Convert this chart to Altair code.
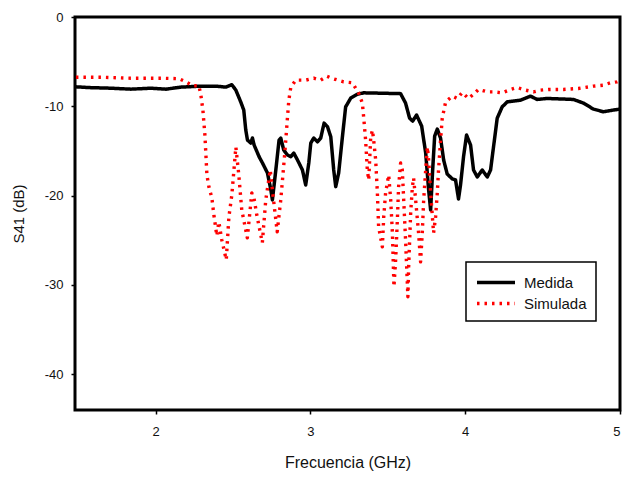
import altair as alt
import pandas as pd

# Medida (measured) S41 in dB vs frequency in GHz
freq_medida = [1.486, 1.583, 1.712, 1.841, 1.970, 2.067, 2.164, 2.293, 2.390, 2.454,
               2.493, 2.519, 2.551, 2.570, 2.583, 2.594, 2.615, 2.626, 2.637, 2.669,
               2.691, 2.723, 2.745, 2.755, 2.777, 2.798, 2.809, 2.828, 2.852, 2.874,
               2.893, 2.917, 2.949, 2.970, 2.990, 3.003, 3.022, 3.046, 3.067, 3.089,
               3.111, 3.132, 3.151, 3.164, 3.183, 3.207, 3.228, 3.261, 3.304, 3.345,
               3.454, 3.583, 3.615, 3.641, 3.661, 3.686, 3.719, 3.745, 3.764, 3.777,
               3.790, 3.803, 3.820, 3.841, 3.861, 3.884, 3.917, 3.938, 3.957, 3.970,
               3.990, 4.009, 4.035, 4.054, 4.078, 4.110, 4.143, 4.164, 4.183, 4.207,
               4.239, 4.272, 4.357, 4.422, 4.465, 4.530, 4.699, 4.764, 4.828, 4.893,
               4.957, 5.000]
s41_medida = [-7.82, -7.91, -7.97, -8.08, -7.97, -8.08, -7.85, -7.74, -7.74, -7.85,
              -7.58, -8.19, -9.53, -10.42, -12.66, -13.78, -14.11, -13.55, -14.34, -15.64,
              -16.35, -17.46, -19.36, -20.48, -17.13, -13.78, -13.55, -14.89, -15.45, -15.64,
              -15.23, -16.01, -17.13, -18.80, -16.35, -14.11, -13.55, -13.97, -13.55, -11.88,
              -12.29, -13.41, -17.13, -18.99, -17.46, -13.44, -10.06, -9.08, -8.64, -8.49,
              -8.53, -8.58, -9.64, -11.32, -11.65, -10.98, -12.21, -15.23, -19.36, -21.60,
              -17.13, -13.33, -12.55, -13.55, -16.01, -17.58, -18.13, -18.25, -20.37, -18.80,
              -15.56, -13.22, -14.34, -17.13, -17.91, -17.13, -17.91, -17.13, -14.56, -11.32,
              -10.06, -9.50, -9.31, -8.86, -9.23, -9.12, -9.23, -9.64, -10.31, -10.61,
              -10.42, -10.31]

# Simulada (simulated) S41 in dB vs frequency in GHz
freq_simulada = [1.486, 1.648, 1.841, 2.035, 2.151, 2.196, 2.241, 2.280, 2.293, 2.306,
                 2.319, 2.332, 2.345, 2.364, 2.377, 2.396, 2.409, 2.428, 2.457, 2.474,
                 2.493, 2.519, 2.538, 2.557, 2.593, 2.622, 2.635, 2.654, 2.690, 2.712,
                 2.741, 2.757, 2.786, 2.809, 2.835, 2.851, 2.861, 2.874, 2.906, 2.970,
                 3.022, 3.067, 3.106, 3.151, 3.215, 3.272, 3.312, 3.336, 3.345, 3.357,
                 3.368, 3.377, 3.390, 3.401, 3.409, 3.422, 3.433, 3.441, 3.465, 3.474,
                 3.486, 3.506, 3.519, 3.530, 3.540, 3.551, 3.562, 3.570, 3.583, 3.594,
                 3.603, 3.615, 3.630, 3.635, 3.648, 3.659, 3.667, 3.680, 3.699, 3.712,
                 3.723, 3.732, 3.745, 3.756, 3.764, 3.777, 3.796, 3.809, 3.820, 3.828,
                 3.841, 3.852, 3.874, 3.917, 3.949, 3.981, 4.022, 4.054, 4.086, 4.143,
                 4.183, 4.239, 4.293, 4.336, 4.390, 4.441, 4.486, 4.538, 4.635, 4.732,
                 4.828, 4.893, 4.938, 4.981, 5.000]
s41_simulada = [-6.74, -6.74, -6.85, -6.85, -6.91, -7.26, -7.69, -7.69, -8.75, -10.42,
                -13.22, -17.69, -19.03, -20.26, -22.16, -24.50, -22.94, -24.95, -27.18, -22.38,
                -19.92, -14.56, -17.69, -21.60, -24.73, -19.70, -20.15, -22.16, -25.28, -20.48,
                -17.13, -19.70, -24.06, -20.48, -15.23, -11.54, -9.31, -7.85, -7.07, -7.07,
                -6.85, -7.07, -6.63, -6.93, -7.26, -7.37, -8.53, -9.64, -11.32, -13.78,
                -17.13, -18.25, -13.44, -12.66, -13.78, -16.01, -19.70, -23.50, -25.73, -22.38,
                -19.70, -17.69, -20.48, -24.17, -30.20, -27.18, -22.72, -19.03, -16.35, -17.13,
                -20.48, -24.95, -31.32, -27.97, -21.93, -19.03, -18.02, -20.48, -24.17, -27.41,
                -24.17, -20.48, -17.13, -14.56, -16.01, -19.70, -24.17, -22.38, -19.70, -17.13,
                -13.78, -11.32, -9.50, -8.86, -9.12, -8.45, -9.12, -8.64, -8.11, -8.38,
                -8.38, -8.49, -8.11, -7.89, -8.19, -8.38, -8.19, -8.11, -8.11, -8.00,
                -7.74, -7.63, -7.37, -7.26, -7.15]

series_names = ["Medida", "Simulada"]
x_ticks = [2, 3, 4, 5]
y_ticks = [0, -10, -20, -30, -40]

df = pd.concat([
    pd.DataFrame({"f": freq_medida, "s41": s41_medida, "serie": series_names[0]}),
    pd.DataFrame({"f": freq_simulada, "s41": s41_simulada, "serie": series_names[1]}),
], ignore_index=True)

FONT = "Liberation Sans"

# custom legend stroke, wider than its layout box (extends to the right)
legend_cfg = dict(title=None, orient="none", legendX=391, legendY=245,
                  symbolType="M-1,0H3", symbolSize=361,
                  symbolStrokeWidth=3.5, labelFontSize=15,
                  labelFont=FONT, labelColor="#111111",
                  padding=9, rowPadding=1, labelOffset=26,
                  strokeColor="#000000", fillColor="#ffffff")

chart = alt.Chart(df).mark_line(strokeCap="butt", strokeJoin="round", clip=True).encode(
    x=alt.X("f:Q", scale=alt.Scale(domain=[1.48, 5.0], nice=False, zero=False),
            axis=alt.Axis(title="Frecuencia (GHz)", values=x_ticks, format="d")),
    y=alt.Y("s41:Q", scale=alt.Scale(domain=[-44, 0], nice=False),
            axis=alt.Axis(title="S41 (dB)", values=y_ticks, format="d",
                          labelExpr="replace(datum.label, '\u2212', '-')")),
    color=alt.Color("serie:N", scale=alt.Scale(domain=series_names, range=["#000000", "#ff0000"]),
                    legend=alt.Legend(**legend_cfg)),
    strokeDash=alt.StrokeDash("serie:N", scale=alt.Scale(domain=series_names, range=[[1, 0], [2.5, 5]]),
                              legend=alt.Legend(**legend_cfg)),
    strokeWidth=alt.StrokeWidth("serie:N", scale=alt.Scale(domain=series_names, range=[3.5, 3.4]),
                                legend=None),
).properties(
    width=545, height=393,
    background="#ffffff",
    autosize=alt.AutoSizeParams(type="none"),
    padding={"left": 75, "top": 17, "right": 9, "bottom": 69},
).configure_view(
    stroke="#000000", strokeWidth=3
).configure_axis(
    domain=False, grid=False,
    tickColor="#000000", tickWidth=1.5, tickSize=4,
    labelFont=FONT, labelFontSize=13, labelColor="#111111",
    titleFont=FONT, titleFontWeight="normal", titleColor="#111111",
).configure_axisX(
    labelPadding=11, titleFontSize=16, titlePadding=16,
).configure_axisY(
    labelPadding=8, titleFontSize=15, titlePadding=18,
).configure_legend(
    strokeWidth=1.5
)

chart.save("out.html", embed_options={"renderer": "svg", "actions": False})
